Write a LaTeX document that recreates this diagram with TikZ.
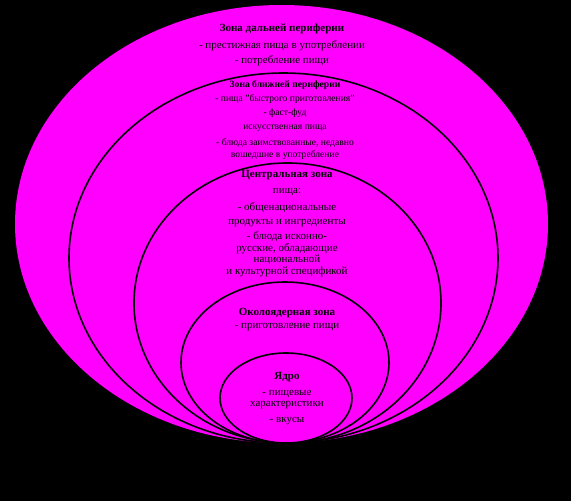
\documentclass[tikz,border=0pt]{standalone}
\usepackage{fontspec}
\setmainfont{Liberation Serif}
\usetikzlibrary{positioning}
\definecolor{zonefill}{RGB}{255,0,255}
\definecolor{zoneline}{RGB}{0,0,0}
\tikzset{
 zone/.style={fill=zonefill, draw=zoneline, line width=1.6pt},
 zone title/.style={font=\fontsize{11}{12}\selectfont\bfseries, inner sep=0pt},
 zone text/.style={font=\fontsize{11}{12}\selectfont, inner sep=0pt},
 zone small/.style={font=\fontsize{9.6}{11}\selectfont, inner sep=0pt},
}
\begin{document}
\begin{tikzpicture}[x=1pt, y=-1pt]
\fill[black] (0,0) rectangle (571,501);
\useasboundingbox (0,0) rectangle (571,501);
% nested zones, all touching at the bottom
\fill[zonefill] (281.5,224) ellipse [x radius=266.5, y radius=219];
\draw[zone] (283.5,258) ellipse [x radius=214.5, y radius=185];
\draw[zone] (287.5,303) ellipse [x radius=153.5, y radius=140];
\draw[zone] (285,362.5) ellipse [x radius=104, y radius=80.5];
\draw[zone] (286,398) ellipse [x radius=66, y radius=45];
% far periphery
\node[zone title] (far) at (282,29) {Зона дальней периферии};
\foreach \txt/\y [count=\i] in {%
 {- престижная пища в употреблении}/46, {- потребление пищи}/61%
}{
 \node[zone text] (far\i) at (282,\y) {\txt};
}
% near periphery
\node[zone small, font=\fontsize{9.6}{11}\selectfont\bfseries] (near) at (285,85) {Зона ближней периферии};
\foreach \txt/\y [count=\i] in {%
 {- пища "быстрого приготовления"}/99, {- фаст-фуд}/113,
 {искусственная пища}/128, {- блюда заимствованные, недавно}/143,
 {вошедшие в употребление}/155%
}{
 \node[zone small] (near\i) at (285,\y) {\txt};
}
% central zone
\node[zone title] (centre) at (287,175) {Центральная зона};
\foreach \txt/\y [count=\i] in {%
 {пища:}/192, {- общенациональные}/208, {продукты и ингредиенты}/223,
 {- блюда исконно-}/237, {русские, обладающие}/248.5,
 {национальной}/260, {и культурной спецификой}/271.5%
}{
 \node[zone text] (centre\i) at (287,\y) {\txt};
}
% near-core zone
\node[zone title] (pericore) at (287,313) {Околоядерная зона};
\node[zone text] (pericore1) at (287,327) {- приготовление пищи};
% core
\node[zone title] (core) at (287,377) {Ядро};
\foreach \txt/\y [count=\i] in {%
 {- пищевые}/394, {характеристики}/405.5, {- вкусы}/421%
}{
 \node[zone text] (core\i) at (287,\y) {\txt};
}
\end{tikzpicture}
\end{document}
